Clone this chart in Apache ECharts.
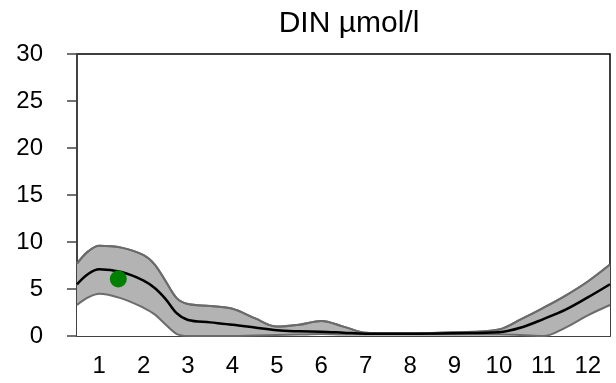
<!DOCTYPE html>
<html>
<head>
<meta charset="utf-8">
<script src="https://cdn.jsdelivr.net/npm/echarts@6/dist/echarts.min.js"></script>
<style>html,body{margin:0;padding:0;background:#fff}#c{width:616px;height:383px}</style>
</head>
<body>
<div id="c"></div>
<script>
const monthLabels = ['1','2','3','4','5','6','7','8','9','10','11','12'];
const xs =     [0.5, 0.75, 1.0, 1.5, 2.0, 2.25, 2.5, 2.75, 3.0, 3.5, 4.0, 4.5, 5.0, 5.5, 6.0, 6.5, 7.0, 7.5, 8.0, 9.0, 10.0, 10.5, 11.0, 11.5, 12.0, 12.5];
const median = [5.5, 6.6, 7.1, 6.8, 5.9, 5.1, 3.9, 2.4, 1.7, 1.45, 1.2, 0.9, 0.6, 0.5, 0.45, 0.35, 0.25, 0.25, 0.25, 0.3, 0.4, 0.9, 1.8, 2.8, 4.1, 5.5];
const upper =  [7.7, 9.0, 9.6, 9.4, 8.6, 7.6, 5.8, 4.0, 3.4, 3.2, 2.9, 1.9, 1.0, 1.2, 1.6, 1.0, 0.35, 0.3, 0.3, 0.4, 0.7, 1.8, 3.0, 4.3, 5.8, 7.6];
const lower =  [3.3, 4.1, 4.5, 4.0, 3.0, 2.3, 1.2, 0.2, 0.0, 0.0, 0.0, 0.05, 0.1, 0.15, 0.2, 0.15, 0.15, 0.15, 0.15, 0.15, 0.15, 0.1, 0.0, 0.9, 2.2, 3.3];
const obsX = [1.43];
const obsY = [6.06];
const yTicks = [0, 5, 10, 15, 20, 25, 30];

const pair = (a) => xs.map((x, i) => [x, a[i]]);
const chart = echarts.init(document.getElementById('c'));
const font = "'Liberation Sans', Arial, sans-serif";
const sm = 0.35;
chart.setOption({
  animation: false,
  title: { text: 'DIN µmol/l', left: 344, top: 4, textAlign: 'center',
    textStyle: { fontFamily: font, fontSize: 30, fontWeight: 'normal', color: '#000' } },
  grid: { left: 77, right: 6, top: 54, bottom: 47, show: true, borderColor: '#000', borderWidth: 1.5 },
  xAxis: [
    { type: 'category', data: monthLabels, boundaryGap: true,
      axisLine: { lineStyle: { color: '#444', width: 1.5 } },
      axisTick: { length: 10, lineStyle: { color: '#444', width: 1.5 } },
      axisLabel: { fontFamily: font, fontSize: 24, color: '#000', margin: 18 },
      splitLine: { show: false } },
    { type: 'value', min: 0.5, max: 12.5, show: false, splitLine: { show: false } }
  ],
  yAxis: { type: 'value', min: 0, max: 30, interval: 5,
    axisLine: { show: true, lineStyle: { color: '#444', width: 1.5 } },
    axisTick: { show: true, length: 10, lineStyle: { color: '#444', width: 1.5 } },
    axisLabel: { fontFamily: font, fontSize: 24, color: '#000', margin: 34,
      formatter: (v) => yTicks.includes(v) ? String(v) : '' },
    splitLine: { show: false } },
  series: [
    { type: 'line', xAxisIndex: 1, data: pair(upper), smooth: sm, symbol: 'none',
      lineStyle: { color: '#6b6b6b', width: 2 }, areaStyle: { color: '#b3b3b3', opacity: 1 }, z: 1 },
    { type: 'line', xAxisIndex: 1, data: pair(lower), smooth: sm, symbol: 'none',
      lineStyle: { color: '#6b6b6b', width: 2 }, areaStyle: { color: '#ffffff', opacity: 1 }, z: 2 },
    { type: 'line', xAxisIndex: 1, data: pair(upper), smooth: sm, symbol: 'none',
      lineStyle: { color: '#6b6b6b', width: 2 }, z: 3 },
    { type: 'line', xAxisIndex: 1, data: pair(median), smooth: sm, symbol: 'none',
      lineStyle: { color: '#000', width: 2.5 }, z: 4 },
    { type: 'scatter', xAxisIndex: 1, data: obsX.map((x, i) => [x, obsY[i]]), symbolSize: 17,
      itemStyle: { color: '#008000', opacity: 1 }, z: 5 }
  ]
});
</script>
</body>
</html>
